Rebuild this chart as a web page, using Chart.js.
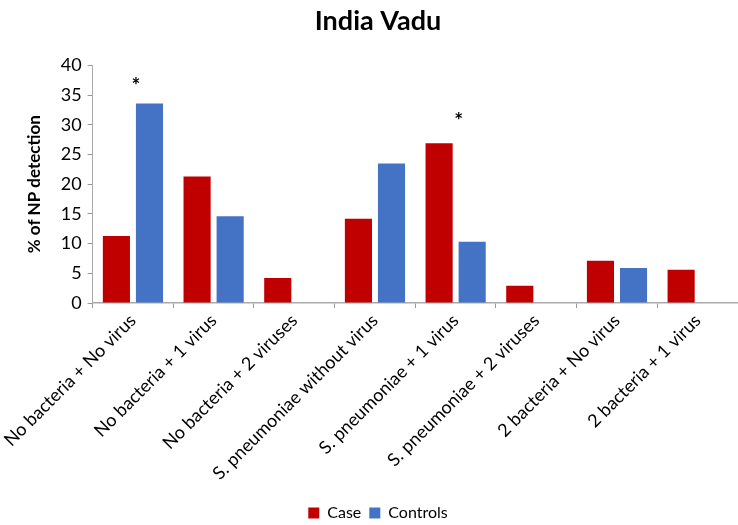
<!DOCTYPE html>
<html>
<head>
<meta charset="utf-8">
<script src="https://cdn.jsdelivr.net/npm/chart.js@4.4.0/dist/chart.umd.min.js"></script>
<style>
  html, body { margin: 0; padding: 0; background: #fff; }
  #wrap { width: 738px; height: 525px; }
</style>
</head>
<body>
<div id="wrap"><canvas id="chart" width="738" height="525"></canvas></div>
<script>
// Data
const categories = [
    'No bacteria + No virus',
    'No bacteria + 1 virus',
    'No bacteria + 2 viruses',
    'S. pneumoniae without virus',
    'S. pneumoniae + 1 virus',
    'S. pneumoniae + 2 viruses',
    '2 bacteria + No virus',
    '2 bacteria + 1 virus'
];
const caseValues = [11.3, 21.3, 4.2, 14.2, 26.9, 2.9, 7.1, 5.6];
const controlValues = [33.6, 14.6, 0, 23.5, 10.3, 0, 5.9, 0];
const yTicks = [0, 5, 10, 15, 20, 25, 30, 35, 40];
// significance markers: category index + height on the value axis
const starCategories = [0, 4];
const starValues = [37.2, 31.3];

const fontFamily = 'Lato, "Open Sans", "Liberation Sans", sans-serif';

// draws the "*" markers through the chart's own scales
const starPlugin = {
    id: 'stars',
    afterDatasetsDraw(chart) {
        const ctx = chart.ctx;
        const xs = chart.scales.x, ys = chart.scales.y;
        ctx.save();
        ctx.fillStyle = '#000';
        ctx.font = 'bold 21px ' + fontFamily;
        ctx.textAlign = 'center';
        ctx.textBaseline = 'middle';
        starCategories.forEach((c, i) => {
            ctx.fillText('*', xs.getPixelForValue(c) + 3, ys.getPixelForValue(starValues[i]) + 4);
        });
        ctx.restore();
    }
};

new Chart(document.getElementById('chart'), {
    type: 'bar',
    data: {
        labels: categories,
        datasets: [
            { label: 'Case', data: caseValues, backgroundColor: '#C00000', borderWidth: 0 },
            { label: 'Controls', data: controlValues, backgroundColor: '#4472C4', borderWidth: 0 }
        ]
    },
    options: {
        responsive: false,
        animation: false,
        categoryPercentage: 0.82,
        barPercentage: 0.82,
        layout: { padding: { left: 18, right: 0, top: 4, bottom: -6 } },
        plugins: {
            title: {
                display: true,
                text: 'India Vadu',
                color: '#000',
                font: { family: fontFamily, size: 27, weight: 'bold' },
                padding: { top: 1, bottom: 28 }
            },
            legend: {
                position: 'bottom',
                labels: {
                    color: '#000',
                    font: { family: fontFamily, size: 16 },
                    boxWidth: 11,
                    boxHeight: 11,
                    padding: 8
                }
            },
            tooltip: { enabled: false }
        },
        scales: {
            x: {
                afterFit: (scale) => { scale.height = 194; },
                grid: {
                    display: true,
                    offset: true,
                    drawOnChartArea: false,
                    drawTicks: true,
                    tickLength: 5,
                    color: '#999'
                },
                border: { color: '#aaa', width: 1.5 },
                ticks: {
                    color: '#000',
                    font: { family: fontFamily, size: 18 },
                    minRotation: 45,
                    maxRotation: 45,
                    autoSkip: false,
                    padding: 2
                }
            },
            y: {
                min: 0,
                max: 40,
                afterBuildTicks: (axis) => { axis.ticks = yTicks.map(v => ({ value: v })); },
                grid: {
                    display: true,
                    drawOnChartArea: false,
                    drawTicks: true,
                    tickLength: 5,
                    color: '#999'
                },
                border: { color: '#aaa', width: 1 },
                ticks: {
                    color: '#000',
                    font: { family: fontFamily, size: 18 },
                    padding: 6
                },
                title: {
                    display: true,
                    text: '% of NP detection',
                    color: '#000',
                    font: { family: fontFamily, size: 17, weight: 'bold' },
                    padding: { top: 0, bottom: 10 }
                }
            }
        }
    },
    plugins: [starPlugin]
});
</script>
</body>
</html>
